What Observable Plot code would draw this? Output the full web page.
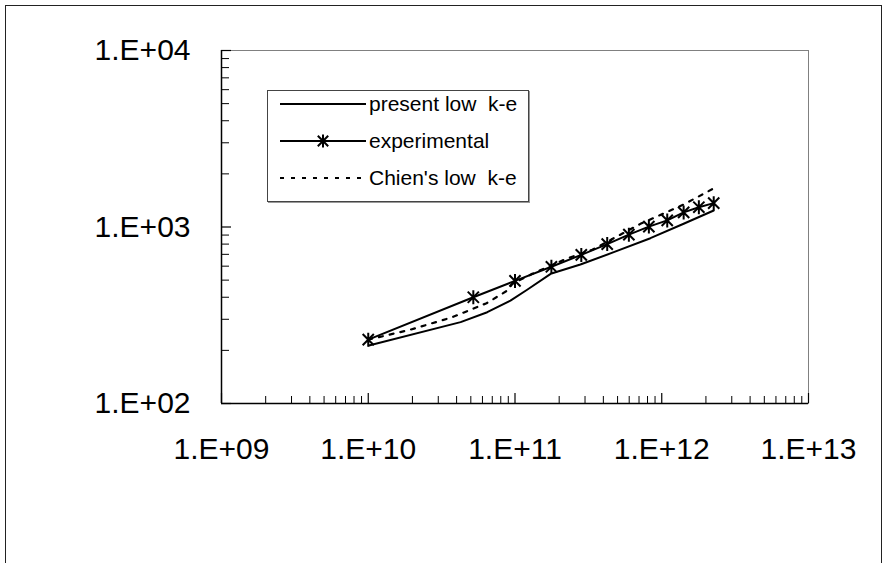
<!DOCTYPE html>
<html>
<head>
<meta charset="utf-8">
<script src="https://cdn.jsdelivr.net/npm/d3@7"></script>
<script src="https://cdn.jsdelivr.net/npm/@observablehq/plot@0.6"></script>
<style>
  html, body { margin: 0; padding: 0; background: #fff; }
  #wrap { position: relative; width: 885px; height: 563px; overflow: hidden; font-family: "Liberation Sans", Arial, sans-serif; }
  #outer { position: absolute; left: 5px; top: 5px; width: 877px; height: 600px; border: 1.5px solid #222; box-sizing: border-box; }
  #legend { position: absolute; left: 267px; top: 90px; width: 262px; height: 112px; border: 1px solid #444; box-shadow: 1px 1px 0 #999; background: #fff; box-sizing: border-box; }
  #legend .row { position: absolute; left: 12px; height: 24px; display: flex; align-items: center; font-size: 21px; white-space: pre; color: #000; }
  #legend svg { margin-right: 2px; }
</style>
</head>
<body>
<div id="wrap">
  <div id="chart"></div>
  <div id="outer"></div>
  <div id="legend"></div>
</div>
<script>
// ---- data ----
const xTicks = [1e9, 1e10, 1e11, 1e12, 1e13];
const xTickLabels = ["1.E+09", "1.E+10", "1.E+11", "1.E+12", "1.E+13"];
const yTicks = [1e2, 1e3, 1e4];
const yTickLabels = ["1.E+02", "1.E+03", "1.E+04"];

const seriesNames = ["present low\u00a0 k-e", "experimental", "Chien's low\u00a0 k-e"];

const presentX = [1.01e10, 4.26e10, 6.47e10, 9.31e10, 1.21e11, 1.75e11, 2.79e11, 4.71e11, 8.37e11, 1.41e12, 2.26e12];
const presentY = [213, 289, 329, 383, 441, 543, 613, 720, 864, 1043, 1240];

const expX = [1.0e10, 5.2e10, 1.0e11, 1.77e11, 2.83e11, 4.25e11, 5.97e11, 8.17e11, 1.09e12, 1.41e12, 1.79e12, 2.26e12];
const expY = [230, 400, 495, 595, 695, 800, 905, 1005, 1090, 1210, 1295, 1365];

const chienX = [1.0e10, 1.94e10, 3.73e10, 6.4e10, 8.85e10, 9.6e10, 1.31e11, 2.24e11, 3.36e11, 7.16e11, 1.41e12, 2.25e12];
const chienY = [230, 262, 308, 370, 436, 476, 543, 661, 743, 1042, 1341, 1652];

// ---- build tables ----
const present = presentX.map((x, i) => ({x, y: presentY[i]}));
const experimental = expX.map((x, i) => ({x, y: expY[i]}));
const chien = chienX.map((x, i) => ({x, y: chienY[i]}));

const minorX = [];
for (let e = 9; e < 13; e++) for (let m = 2; m <= 9; m++) minorX.push(m * Math.pow(10, e));
const minorY = [];
for (let e = 2; e < 4; e++) for (let m = 2; m <= 9; m++) minorY.push(m * Math.pow(10, e));

const star = {
  draw(ctx, size) {
    const r = Math.sqrt(size / Math.PI);
    const d = r * 0.8;
    ctx.moveTo(0, -r); ctx.lineTo(0, r);
    ctx.moveTo(-d, -d); ctx.lineTo(d, d);
    ctx.moveTo(-d, d); ctx.lineTo(d, -d);
  }
};

const W = 885, H = 563;
const mL = 221, mR = 77, mT = 50, mB = 160;
const frameW = W - mL - mR, frameH = H - mT - mB;
const fontFamily = '"Liberation Sans", Arial, sans-serif';

const chart = Plot.plot({
  width: W,
  height: H,
  marginLeft: mL, marginRight: mR, marginTop: mT, marginBottom: mB,
  style: {fontFamily, background: "transparent", overflow: "visible"},
  x: {type: "log", domain: [1e9, 1e13]},
  y: {type: "log", domain: [1e2, 1e4]},
  marks: [
    Plot.frame({stroke: "#808080", strokeWidth: 1}),
    // minor ticks (inward)
    Plot.tickX(minorX, {x: d => d, insetTop: frameH - 7, stroke: "#000", strokeWidth: 1}),
    Plot.tickX(xTicks, {x: d => d, insetTop: frameH - 10, stroke: "#000", strokeWidth: 1.2}),
    Plot.tickY(minorY, {y: d => d, insetRight: frameW - 8, stroke: "#000", strokeWidth: 1}),
    Plot.tickY(yTicks, {y: d => d, insetRight: frameW - 10, stroke: "#000", strokeWidth: 1.2}),
    // axis lines
    Plot.ruleX([1e9], {stroke: "#000", strokeWidth: 1.5}),
    Plot.ruleY([1e2], {stroke: "#000", strokeWidth: 1.5}),
    Plot.axisX({ticks: xTicks, label: null, tickSize: 0, tickPadding: 34, fontSize: 30, tickFormat: (d) => xTickLabels[xTicks.indexOf(d)], fill: "#000"}),
    Plot.axisY({ticks: yTicks, label: null, tickSize: 0, tickPadding: 31, fontSize: 30, tickFormat: (d) => yTickLabels[yTicks.indexOf(d)], fill: "#000"}),
    // series
    Plot.line(present, {x: "x", y: "y", stroke: "#000", strokeWidth: 2}),
    Plot.line(chien, {x: "x", y: "y", stroke: "#000", strokeWidth: 2.2, strokeDasharray: "4,7"}),
    Plot.line(experimental, {x: "x", y: "y", stroke: "#000", strokeWidth: 2}),
    Plot.dot(experimental, {x: "x", y: "y", symbol: star, r: 7, stroke: "#000", strokeWidth: 2, fill: "none"})
  ]
});
document.getElementById("chart").appendChild(chart);

// ---- legend ----
const legend = document.getElementById("legend");
const rowTops = [1, 38, 75];
const styles = [
  {dash: null, marker: false},
  {dash: null, marker: true},
  {dash: "4,7", marker: false}
];
seriesNames.forEach((name, i) => {
  const row = document.createElement("div");
  row.className = "row";
  row.style.top = rowTops[i] + "px";
  const ns = "http://www.w3.org/2000/svg";
  const s = document.createElementNS(ns, "svg");
  s.setAttribute("width", 87); s.setAttribute("height", 24);
  const ln = document.createElementNS(ns, "line");
  ln.setAttribute("x1", 0); ln.setAttribute("x2", 86); ln.setAttribute("y1", 12); ln.setAttribute("y2", 12);
  ln.setAttribute("stroke", "#000"); ln.setAttribute("stroke-width", 2);
  if (styles[i].dash) ln.setAttribute("stroke-dasharray", styles[i].dash);
  s.appendChild(ln);
  if (styles[i].marker) {
    const p = document.createElementNS(ns, "path");
    const r = 6.5, d = 5.2;
    p.setAttribute("d", `M43,${12 - r}L43,${12 + r}M${43 - d},${12 - d}L${43 + d},${12 + d}M${43 - d},${12 + d}L${43 + d},${12 - d}`);
    p.setAttribute("stroke", "#000"); p.setAttribute("stroke-width", 2); p.setAttribute("fill", "none");
    s.appendChild(p);
  }
  row.appendChild(s);
  const t = document.createElement("span");
  t.textContent = name;
  row.appendChild(t);
  legend.appendChild(row);
});
</script>
</body>
</html>
